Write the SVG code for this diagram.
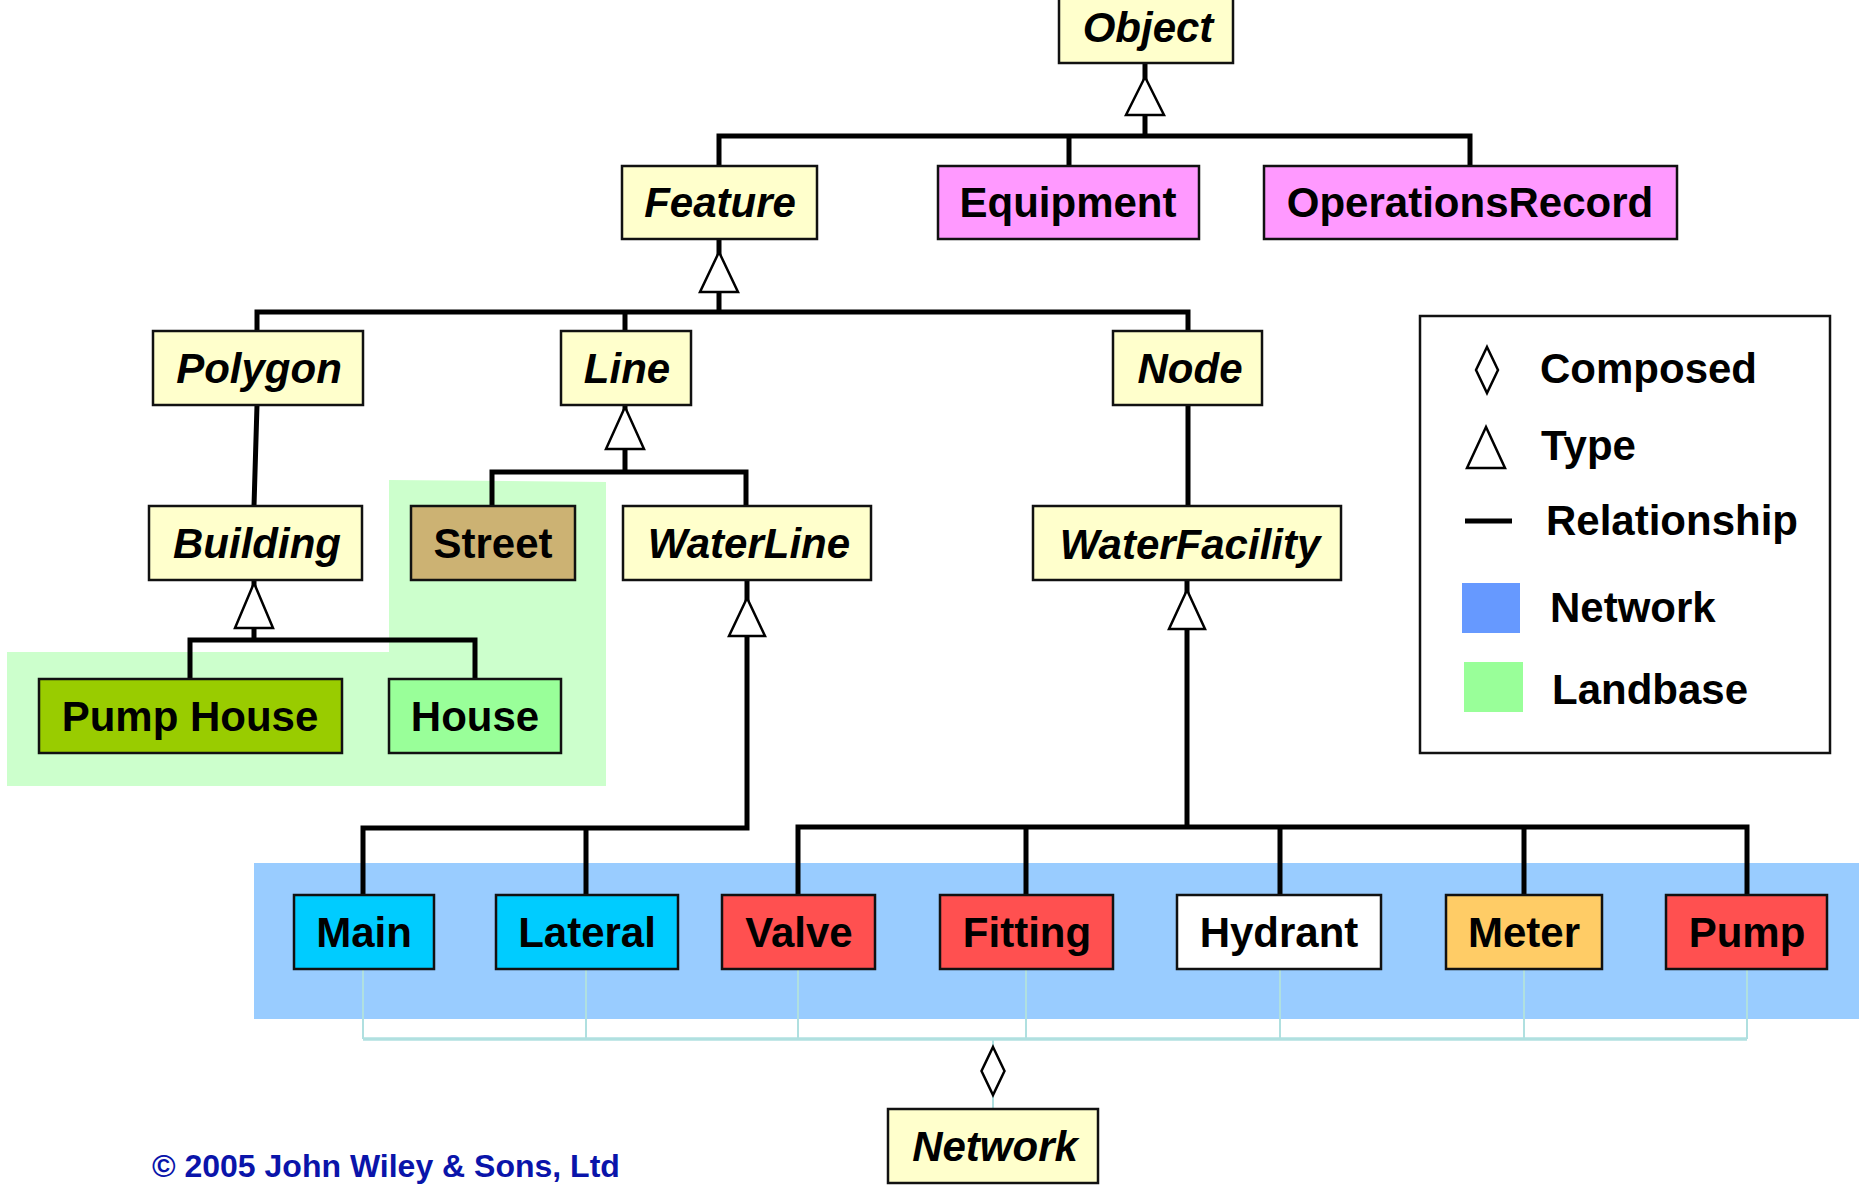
<svg xmlns="http://www.w3.org/2000/svg" width="1859" height="1186" viewBox="0 0 1859 1186">
  <style>
    .box { stroke: #111; stroke-width: 2.5; }
    .abs { fill: #FFFFCC; }
    .lbl { font-family: "Liberation Sans", Arial, sans-serif; font-weight: bold; font-size: 42px; fill: #000; text-anchor: middle; }
    .it { font-style: italic; }
    .leg { font-family: "Liberation Sans", Arial, sans-serif; font-weight: bold; font-size: 42px; fill: #000; }
    .rel { fill: none; stroke: #000; stroke-width: 5; stroke-linecap: square; }
    .tri { fill: #fff; stroke: #000; stroke-width: 2.5; stroke-linejoin: miter; }
    .comp { fill: none; stroke: #B0E0E0; stroke-width: 2; }
    .compbus { fill: none; stroke: #B0E0E0; stroke-width: 3.5; }
  </style>

  <!-- background areas -->
  <g id="areas">
    <polygon points="7,652 389,652 389,480 606,482 606,786 7,786" fill="#CCFFCC"/>
    <rect x="254" y="863" width="1605" height="156" fill="#99CCFF"/>
  </g>

  <!-- connectors -->
  <g id="connectors">
    <!-- Object generalisation -->
    <path class="rel" d="M1145,63 V136 M719,166 V136 H1470 V166 M1069,136 V166"/>
    <polygon class="tri" points="1145,77 1126,115 1164,115"/>
    <!-- Feature generalisation -->
    <path class="rel" d="M719,239 V312 M257,331 V312 H1188 V331 M625,312 V331"/>
    <polygon class="tri" points="719,252 700,292 738,292"/>
    <!-- Polygon - Building, Node - WaterFacility -->
    <path class="rel" d="M257,405 L254,506 M1188,405 V506"/>
    <!-- Line generalisation -->
    <path class="rel" d="M625,405 V472 M492,506 V472 H746 V506"/>
    <polygon class="tri" points="625,407 606,449 644,449"/>
    <!-- Building generalisation -->
    <path class="rel" d="M254,580 V640 M190,679 V640 H475 V679"/>
    <polygon class="tri" points="254,583 235,628 273,628"/>
    <!-- WaterLine generalisation -->
    <path class="rel" d="M747,581 V828 H363 V895 M586,828 V895"/>
    <polygon class="tri" points="747,598 729,636 765,636"/>
    <!-- WaterFacility generalisation -->
    <path class="rel" d="M1187,581 V827 M798,895 V827 H1747 V895 M1026,827 V895 M1280,827 V895 M1524,827 V895"/>
    <polygon class="tri" points="1187,590 1169,629 1205,629"/>
    <!-- Network composition -->
    <path class="comp" d="M363,969 V1039 M586,969 V1039 M798,969 V1039 M1026,969 V1039 M1280,969 V1039 M1524,969 V1039 M1747,969 V1039 M993,1039 V1047 M993,1095 V1109"/>
    <path class="compbus" d="M363,1039 H1747"/>
    <polygon points="993,1047 1004.5,1071 993,1095 981.5,1071" fill="#fff" stroke="#000" stroke-width="2.5"/>
  </g>

  <!-- class nodes -->
  <g id="object"><rect class="box abs" x="1059" y="-8" width="174" height="71"/><text class="lbl it" x="1148" y="42">Object</text></g>
  <g id="feature"><rect class="box abs" x="622" y="166" width="195" height="73"/><text class="lbl it" x="720" y="217">Feature</text></g>
  <g id="equipment"><rect class="box" fill="#FF99FF" x="938" y="166" width="261" height="73"/><text class="lbl" x="1068" y="217">Equipment</text></g>
  <g id="operations-record"><rect class="box" fill="#FF99FF" x="1264" y="166" width="413" height="73"/><text class="lbl" x="1470" y="217">OperationsRecord</text></g>

  <g id="polygon"><rect class="box abs" x="153" y="331" width="210" height="74"/><text class="lbl it" x="259" y="383">Polygon</text></g>
  <g id="line"><rect class="box abs" x="561" y="331" width="130" height="74"/><text class="lbl it" x="627" y="383">Line</text></g>
  <g id="node"><rect class="box abs" x="1113" y="331" width="149" height="74"/><text class="lbl it" x="1190" y="383">Node</text></g>

  <g id="building"><rect class="box abs" x="149" y="506" width="213" height="74"/><text class="lbl it" x="257" y="558">Building</text></g>
  <g id="street"><rect class="box" fill="#CCB273" x="411" y="506" width="164" height="74"/><text class="lbl" x="493" y="558">Street</text></g>
  <g id="waterline"><rect class="box abs" x="623" y="506" width="248" height="74"/><text class="lbl it" x="749" y="558">WaterLine</text></g>
  <g id="waterfacility"><rect class="box abs" x="1033" y="506" width="308" height="74"/><text class="lbl it" x="1190" y="559">WaterFacility</text></g>

  <g id="pump-house"><rect class="box" fill="#99CC00" x="39" y="679" width="303" height="74"/><text class="lbl" x="190" y="731">Pump House</text></g>
  <g id="house"><rect class="box" fill="#99FF99" x="389" y="679" width="172" height="74"/><text class="lbl" x="475" y="731">House</text></g>

  <g id="main"><rect class="box" fill="#00CCFF" x="294" y="895" width="140" height="74"/><text class="lbl" x="364" y="947">Main</text></g>
  <g id="lateral"><rect class="box" fill="#00CCFF" x="496" y="895" width="182" height="74"/><text class="lbl" x="587" y="947">Lateral</text></g>
  <g id="valve"><rect class="box" fill="#FF5050" x="722" y="895" width="153" height="74"/><text class="lbl" x="799" y="947">Valve</text></g>
  <g id="fitting"><rect class="box" fill="#FF5050" x="940" y="895" width="173" height="74"/><text class="lbl" x="1027" y="947">Fitting</text></g>
  <g id="hydrant"><rect class="box" fill="#FFFFFF" x="1177" y="895" width="204" height="74"/><text class="lbl" x="1279" y="947">Hydrant</text></g>
  <g id="meter"><rect class="box" fill="#FFCC66" x="1446" y="895" width="156" height="74"/><text class="lbl" x="1524" y="947">Meter</text></g>
  <g id="pump"><rect class="box" fill="#FF5050" x="1666" y="895" width="161" height="74"/><text class="lbl" x="1747" y="947">Pump</text></g>

  <g id="network"><rect class="box abs" x="888" y="1109" width="210" height="74"/><text class="lbl it" x="995" y="1161">Network</text></g>

  <!-- key -->
  <g id="legend">
    <rect x="1420" y="316" width="410" height="437" fill="#fff" stroke="#111" stroke-width="2.5"/>
    <polygon points="1487,347 1498,370 1487,393 1476,370" fill="#fff" stroke="#000" stroke-width="2.5"/>
    <text class="leg" x="1540" y="383">Composed</text>
    <polygon class="tri" points="1486,427 1467,468 1505,468"/>
    <text class="leg" x="1541" y="460">Type</text>
    <line x1="1465" y1="521" x2="1512" y2="521" stroke="#000" stroke-width="5"/>
    <text class="leg" x="1546" y="535">Relationship</text>
    <rect x="1462" y="583" width="58" height="50" fill="#6699FF"/>
    <text class="leg" x="1550" y="622">Network</text>
    <rect x="1464" y="662" width="59" height="50" fill="#99FF99"/>
    <text class="leg" x="1552" y="704">Landbase</text>
  </g>

  <text x="152" y="1177" font-family="'Liberation Sans', Arial, sans-serif" font-weight="bold" font-size="32" fill="#0A14AA">© 2005 John Wiley &amp; Sons, Ltd</text>
</svg>
